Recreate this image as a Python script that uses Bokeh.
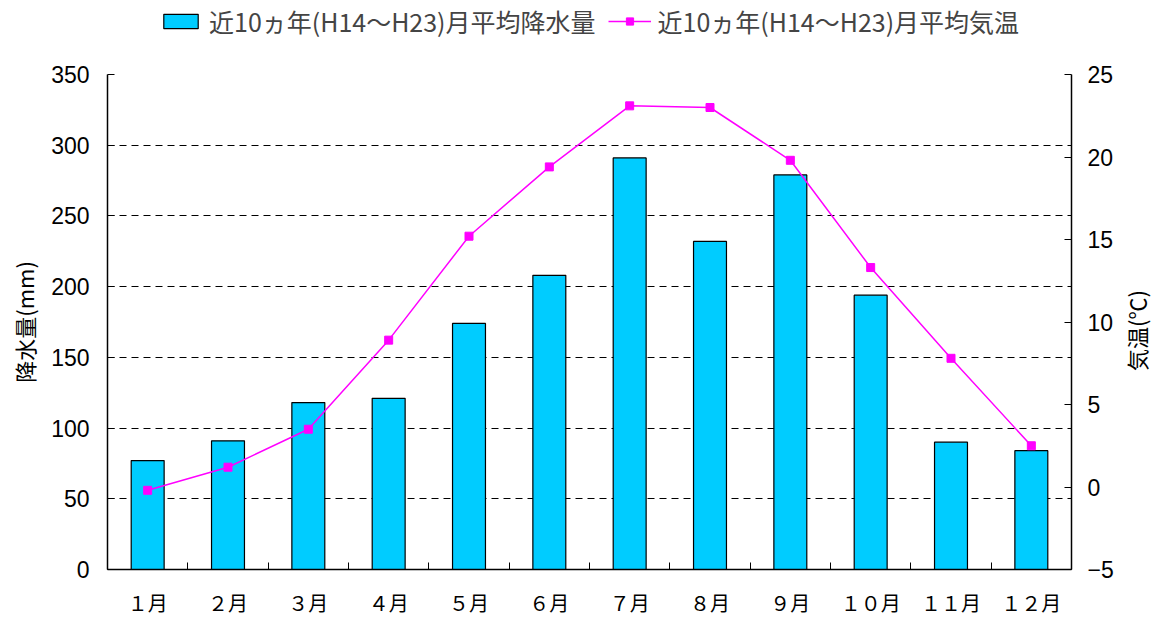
import math
from bokeh.plotting import figure
from bokeh.layouts import column, row
from bokeh.models import (ColumnDataSource, Range1d, LinearAxis, FixedTicker, Legend, LegendItem, Label)
from bokeh.embed import file_html
from bokeh.resources import INLINE

months = ["1月", "2月", "3月", "4月", "5月", "6月", "7月", "8月", "9月", "10月", "11月", "12月"]
month_labels = ["１月", "２月", "３月", "４月", "５月", "６月", "７月", "８月", "９月", "１０月", "１１月", "１２月"]
precip = [77, 91, 118, 121, 174, 208, 291, 232, 279, 194, 90, 84]
temp = [-0.2, 1.2, 3.5, 8.9, 15.2, 19.4, 23.1, 23.0, 19.8, 13.3, 7.8, 2.5]
left_ticks = [0, 50, 100, 150, 200, 250, 300, 350]
right_ticks = [-5, 0, 5, 10, 15, 20, 25]
precip_name = "近10ヵ年(H14～H23)月平均降水量"
temp_name = "近10ヵ年(H14～H23)月平均気温"
right_title = "気温(℃)"

BAR_COLOR = "#00CCFF"
LINE_COLOR = "#FF00FF"
NUM_FONT = "Liberation Sans"
JP_FONT = "Noto Sans CJK JP"

xs = list(range(1, len(months) + 1))
src = ColumnDataSource(dict(x=xs, precip=precip, temp=temp))

# ---------------- main chart ----------------
p = figure(width=1120, height=559, output_backend="svg", toolbar_location=None,
           x_range=Range1d(0.5, 12.5), y_range=Range1d(0, 350),
           min_border_left=107, min_border_right=49, min_border_top=14, min_border_bottom=48)
p.outline_line_color = None
p.background_fill_color = "white"
p.border_fill_color = "white"
p.extra_y_ranges = {"temp": Range1d(-5, 25)}

p.vbar(x="x", top="precip", width=0.41, source=src,
       fill_color=BAR_COLOR, line_color="black", line_width=1.2)
p.line(x="x", y="temp", source=src, y_range_name="temp",
       line_color=LINE_COLOR, line_width=1.5)
p.scatter(x="x", y="temp", source=src, y_range_name="temp", marker="square",
          size=8, fill_color=LINE_COLOR, line_color=LINE_COLOR)

xa = p.xaxis[0]
xa.ticker = FixedTicker(ticks=xs, minor_ticks=[i + 0.5 for i in range(0, 13)])
xa.major_label_overrides = {i: lab for i, lab in zip(xs, month_labels)}
xa.major_tick_in = 0
xa.major_tick_out = 0
xa.minor_tick_in = 7
xa.minor_tick_out = 0
xa.minor_tick_line_color = "black"
xa.axis_line_color = "black"
xa.axis_line_width = 1.5
xa.major_label_text_font = JP_FONT
xa.major_label_text_font_size = "20px"
xa.major_label_text_color = "black"
xa.major_label_standoff = 18

ya = p.yaxis[0]
ya.ticker = FixedTicker(ticks=left_ticks)
ya.major_tick_in = 7
ya.major_tick_out = 0
ya.minor_tick_line_color = None
ya.axis_line_color = "black"
ya.axis_line_width = 1.5
ya.major_label_text_font = NUM_FONT
ya.major_label_text_font_size = "23px"
ya.major_label_text_color = "black"
ya.major_label_standoff = 18
ya.axis_label = "降水量(mm)"
ya.axis_label_text_font = JP_FONT
ya.axis_label_text_font_size = "22px"
ya.axis_label_text_font_style = "normal"
ya.axis_label_text_color = "black"
ya.axis_label_standoff = 8

ra = LinearAxis(y_range_name="temp", ticker=FixedTicker(ticks=right_ticks))
ra.major_tick_in = 7
ra.major_tick_out = 0
ra.minor_tick_line_color = None
ra.axis_line_color = "black"
ra.axis_line_width = 1.5
ra.major_label_text_font = NUM_FONT
ra.major_label_text_font_size = "23px"
ra.major_label_text_color = "black"
ra.major_label_standoff = 16
p.add_layout(ra, "right")

p.xgrid.grid_line_color = None
p.ygrid.ticker = FixedTicker(ticks=left_ticks)
p.ygrid.grid_line_color = "black"
p.ygrid.grid_line_dash = "7 5"
p.ygrid.grid_line_width = 1

# ---------------- legend strip (top) ----------------
top = figure(width=1157, height=60, output_backend="svg", toolbar_location=None,
             x_axis_location=None, y_axis_location=None,
             x_range=Range1d(0, 1), y_range=Range1d(0, 1),
             min_border=0)
top.outline_line_color = None
top.grid.grid_line_color = None
# proxy renderers for legend swatches only (placed outside the visible range)
proxy = ColumnDataSource(dict(x=[-10], top=[-10], y=[-10]))
lb = top.vbar(x="x", top="top", width=0.4, source=proxy,
              fill_color=BAR_COLOR, line_color="black", line_width=1.2)
ll = top.line(x="x", y="y", source=proxy, line_color=LINE_COLOR, line_width=1.5)
ls = top.scatter(x="x", y="y", source=proxy, marker="square", size=8,
                 fill_color=LINE_COLOR, line_color=LINE_COLOR)
legend = Legend(items=[LegendItem(label=precip_name, renderers=[lb]),
                       LegendItem(label=temp_name, renderers=[ll, ls])],
                orientation="horizontal", location=(159, 21),
                label_text_font=JP_FONT, label_text_font_size="25px",
                glyph_width=43, glyph_height=18, spacing=12, label_standoff=7,
                border_line_color=None, background_fill_alpha=0,
                padding=2, margin=0)
top.add_layout(legend)

# ---------------- right title strip ----------------
side = figure(width=37, height=559, output_backend="svg", toolbar_location=None,
              x_axis_location=None, y_axis_location=None,
              x_range=Range1d(0, 1), y_range=Range1d(0, 1),
              min_border=0)
side.outline_line_color = None
side.grid.grid_line_color = None
side.add_layout(Label(x=15, y=239, x_units="screen", y_units="screen", text=right_title,
                      angle=math.pi / 2, text_align="center", text_baseline="middle",
                      text_font=JP_FONT, text_font_size="22px", text_color="black"))

layout = column(top, row(p, side, spacing=0), spacing=0)
open("out.html", "w").write(file_html(layout, INLINE))
